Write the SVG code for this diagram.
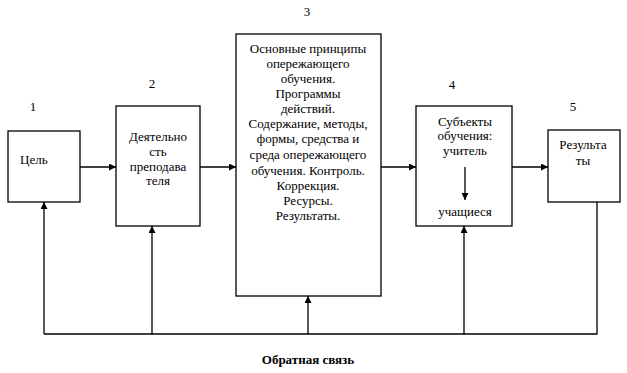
<svg xmlns="http://www.w3.org/2000/svg" width="627" height="373" viewBox="0 0 627 373" font-family="'Liberation Serif', 'Times New Roman', 'DejaVu Serif', serif">
<style>
.box{fill:#fff;stroke:#000;stroke-width:1.3}
.ln{fill:none;stroke:#000;stroke-width:1.3}
text{font-family:'Liberation Serif','Times New Roman','DejaVu Serif',serif;font-size:13px;fill:#000}
.c{text-anchor:middle}
.b{font-weight:bold}
</style>
<defs>
<marker id="ah" viewBox="0 0 10 10" refX="10" refY="5" markerWidth="8" markerHeight="7" markerUnits="userSpaceOnUse" orient="auto">
<path d="M0,0 L10,5 L0,10 Z" fill="#000"/>
</marker>
</defs>
<rect width="627" height="373" fill="#fff"/>
<g id="connectors">
<line class="ln" x1="80" y1="167" x2="116" y2="167" marker-end="url(#ah)"/>
<line class="ln" x1="200" y1="167" x2="236" y2="167" marker-end="url(#ah)"/>
<line class="ln" x1="381" y1="167" x2="416" y2="167" marker-end="url(#ah)"/>
<line class="ln" x1="512" y1="167" x2="548" y2="167" marker-end="url(#ah)"/>
<polyline class="ln" points="597,202 597,334 44,334"/>
<line class="ln" x1="44" y1="334" x2="44" y2="202" marker-end="url(#ah)"/>
<line class="ln" x1="152" y1="334" x2="152" y2="226" marker-end="url(#ah)"/>
<line class="ln" x1="308" y1="334" x2="308" y2="296" marker-end="url(#ah)"/>
<line class="ln" x1="464" y1="334" x2="464" y2="226" marker-end="url(#ah)"/>
</g>
<g id="node1">
<rect class="box" x="8" y="131" width="72" height="71"/>
<text x="20" y="164">Цель</text>
<text class="c" x="33" y="111">1</text>
</g>
<g id="node2">
<rect class="box" x="116" y="106" width="84" height="120"/>
<text class="c" x="158" y="141">Деятельно</text>
<text class="c" x="158" y="156">сть</text>
<text class="c" x="158" y="171">преподава</text>
<text class="c" x="158" y="185">теля</text>
<text class="c" x="152" y="88">2</text>
</g>
<g id="node3">
<rect class="box" x="236" y="34" width="145" height="262"/>
<text class="c" x="307" y="16">3</text>
<text class="c" x="308" y="53">Основные принципы</text>
<text class="c" x="308" y="68">опережающего</text>
<text class="c" x="308" y="83">обучения.</text>
<text class="c" x="308" y="98">Программы</text>
<text class="c" x="308" y="113">действий.</text>
<text class="c" x="308" y="128">Содержание, методы,</text>
<text class="c" x="308" y="143">формы, средства и</text>
<text class="c" x="308" y="159">среда опережающего</text>
<text class="c" x="308" y="175">обучения. Контроль.</text>
<text class="c" x="308" y="190">Коррекция.</text>
<text class="c" x="308" y="205">Ресурсы.</text>
<text class="c" x="308" y="220">Результаты.</text>
</g>
<g id="node4">
<rect class="box" x="416" y="106" width="96" height="120"/>
<text class="c" x="452" y="89">4</text>
<text class="c" x="465" y="126">Субъекты</text>
<text class="c" x="465" y="140">обучения:</text>
<text class="c" x="465" y="155">учитель</text>
<line class="ln" x1="465" y1="167" x2="465" y2="200" marker-end="url(#ah)"/>
<text class="c" x="465" y="216">учащиеся</text>
</g>
<g id="node5">
<rect class="box" x="548" y="130" width="72" height="72"/>
<text class="c" x="573" y="111">5</text>
<text class="c" x="583" y="149">Результа</text>
<text class="c" x="583" y="165">ты</text>
</g>
<g id="feedback-label">
<text class="c b" x="308" y="364">Обратная связь</text>
</g>
</svg>
